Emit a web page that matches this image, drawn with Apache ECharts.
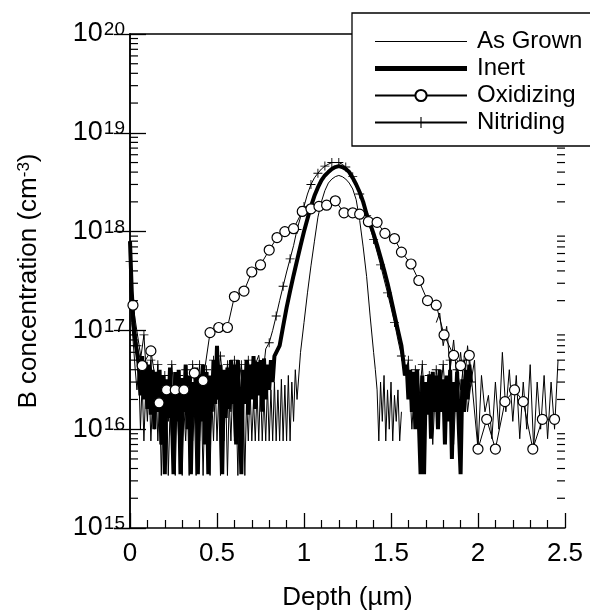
<!DOCTYPE html>
<html><head><meta charset="utf-8">
<script src="https://cdn.jsdelivr.net/npm/echarts@6.0.0/dist/echarts.min.js"></script>
<style>html,body{margin:0;padding:0;background:#fff}#c{width:590px;height:616px}</style>
</head><body><div id="c"></div>
<script>
// ---- data (depth in µm, concentration in cm^-3) ----
const inertDepth = [0,0.01,0.02,0.03,0.04,0.05,0.06,0.07,0.08,0.09,
0.1,0.11,0.12,0.13,0.14,0.15,0.16,0.17,0.18,0.19,
0.2,0.21,0.22,0.23,0.24,0.25,0.26,0.27,0.28,0.29,
0.3,0.31,0.32,0.33,0.34,0.35,0.36,0.37,0.38,0.39,
0.4,0.41,0.42,0.43,0.44,0.45,0.46,0.47,0.48,0.49,
0.5,0.51,0.52,0.53,0.54,0.55,0.56,0.57,0.58,0.59,
0.6,0.61,0.62,0.63,0.64,0.65,0.66,0.67,0.68,0.69,
0.7,0.71,0.72,0.73,0.74,0.75,0.76,0.77,0.78,0.79,
0.8,0.81,0.82,0.83,0.84,
0.86,0.88,0.9,0.92,0.94,0.96,0.98,1,1.02,1.04,
1.06,1.08,1.1,1.12,1.14,1.16,1.18,1.2,1.22,1.24,
1.26,1.28,1.3,1.32,1.34,1.36,1.38,1.4,1.42,1.44,
1.46,1.48,1.5,1.52,1.54,1.56,
1.57,1.58,1.59,1.6,1.61,1.62,1.63,1.64,1.65,1.66,
1.67,1.68,1.69,1.7,1.71,1.72,1.73,1.74,1.75,1.76,
1.77,1.78,1.79,1.8,1.81,1.82,1.83,1.84,1.85,1.86,
1.87,1.88,1.89,1.9,1.91,1.92,1.93,1.94,1.95,1.96];
const inert = [8e17,2.5e17,1.2e17,8e16,6e16,4.5e16,2.2e16,5.5e16,2e16,4.8e16,
1.6e16,4.5e16,1.4e16,4e16,1e16,3.8e16,1.5e16,4e16,7e15,3.5e16,
3.5e15,3.2e16,1.3e16,4.2e16,1.6e16,3.5e15,3.8e16,1.2e16,4e16,3.5e15,
3.3e16,1.5e16,4.5e16,1e16,3.5e16,3.5e15,3e16,1.4e16,4.2e16,3.5e15,
3.6e16,1.2e16,4.5e16,7e15,3.8e16,3.5e15,3.5e16,1.5e16,5e16,1.8e16,
7e16,2e16,4.5e16,3.5e15,4e16,1.3e16,4.2e16,1.6e16,5e16,1.8e16,
4.5e16,7e15,5e16,1.5e16,3.5e15,4e16,1.8e16,5e16,1.4e16,4.5e16,
2e16,5.5e16,1.6e16,4.8e16,2.2e16,5e16,1.5e16,5.2e16,2e16,4.5e16,
2.5e16,5e16,3e16,5.5e16,5.5e16,
7e16,1.1e17,1.7e17,2.5e17,3.6e17,5.1e17,7.2e17,1e18,1.35e18,1.8e18,
2.3e18,2.8e18,3.3e18,3.7e18,4e18,4.3e18,4.5e18,4.6e18,4.5e18,4.3e18,
4e18,3.5e18,3e18,2.5e18,2e18,1.5e18,1.2e18,9.5e17,7.3e17,5.5e17,
4.1e17,3e17,2.1e17,1.45e17,1e17,7e16,
5e16,3.5e16,4.5e16,2e16,4e16,1.5e16,3.8e16,1e16,4e16,1.2e16,
3.5e15,3.5e16,3.5e15,3e16,1.4e16,3.6e16,8e15,3.8e16,1.5e16,3.5e16,
1e16,4e16,1.5e16,3.2e16,7e15,3.5e16,1.2e16,4e16,5e15,3e16,
1.5e16,3.8e16,1e16,3.5e15,3.2e16,1.5e16,4e16,2e16,4.5e16,3e16];

const asGrownDepth = [0,0.01,0.02,0.03,0.04,0.05,0.06,0.07,0.08,0.09,
0.1,0.11,0.12,0.13,0.14,0.15,0.16,0.17,0.18,0.19,
0.2,0.21,0.22,0.23,0.24,0.25,0.26,0.27,0.28,0.29,
0.3,0.31,0.32,0.33,0.34,0.35,0.36,0.37,0.38,0.39,
0.4,0.41,0.42,0.43,0.44,0.45,0.46,0.47,0.48,0.49,
0.5,0.51,0.52,0.53,0.54,0.55,0.56,0.57,0.58,0.59,
0.6,0.61,0.62,0.63,0.64,0.65,0.66,0.67,0.68,0.69,
0.7,0.71,0.72,0.73,0.74,0.75,0.76,0.77,0.78,0.79,
0.8,0.81,0.82,0.83,0.84,0.85,0.86,0.87,0.88,0.89,
0.9,0.91,0.92,0.93,0.94,0.95,0.96,
0.98,1,1.02,1.04,1.06,1.08,1.1,1.12,1.14,1.16,
1.18,1.2,1.22,1.24,1.26,1.28,1.3,1.32,1.34,1.36,
1.38,1.4,
1.41,1.42,1.43,1.44,1.45,1.46,1.47,1.48,1.49,1.5,
1.51,1.52,1.53,1.54,1.55,1.56];
const asGrown = [3e17,1.2e17,7e16,4e16,2.5e16,4e16,1e16,3e16,7.6e15,2.5e16,
1.2e16,3e16,7.6e15,2e16,1e16,2.8e16,7.6e15,2e16,3.4e15,1.8e16,
7.6e15,2.5e16,3.4e15,1.5e16,7.6e15,2.2e16,3.4e15,1.8e16,7.6e15,2.5e16,
3.4e15,1.6e16,7.6e15,2e16,3.4e15,2.2e16,7.6e15,1.5e16,3.4e15,2.5e16,
7.6e15,2e16,3.4e15,1.8e16,7.6e15,2.4e16,3.4e15,2e16,7.6e15,2.8e16,
7.6e15,2.2e16,3.4e15,1.8e16,7.6e15,2.5e16,3.4e15,2e16,7.6e15,2.6e16,
7.6e15,1.8e16,3.4e15,2.2e16,7.6e15,2.5e16,3.4e15,2e16,7.6e15,2.8e16,
7.6e15,2e16,7.6e15,2.5e16,7.6e15,3e16,7.6e15,2.2e16,7.6e15,2.8e16,
7.6e15,2.5e16,7.6e15,3e16,7.6e15,2.5e16,7.6e15,3.2e16,7.6e15,2.8e16,
7.6e15,3.5e16,7.6e15,3e16,1.2e16,4e16,2e16,
6e16,1.2e17,2.4e17,4.5e17,8e17,1.4e18,2e18,2.6e18,3.1e18,3.4e18,
3.6e18,3.7e18,3.6e18,3.4e18,3.1e18,2.7e18,2.1e18,1.3e18,7e17,3.5e17,
1.4e17,6e16,
4e16,2.5e16,7.6e15,3e16,1.2e16,3.5e16,7.6e15,2.5e16,1e16,3e16,
7.6e15,2.2e16,1.2e16,2.5e16,7.6e15,1.5e16];

const nitridingDepth = [0,0.02,0.04,0.06,0.08,0.1,0.12,0.14,0.16,0.18,
0.2,0.22,0.24,0.26,0.28,0.3,0.32,0.34,0.36,0.38,
0.4,0.42,0.44,0.46,0.48,0.5,0.52,0.54,0.56,0.58,
0.6,0.62,0.64,0.66,0.68,0.7,0.72,0.74,0.76,0.78,
0.8,0.82,0.84,0.86,0.88,0.9,0.92,0.94,0.96,0.98,
1,1.02,1.04,1.06,1.08,1.1,1.12,1.14,1.16,1.18,
1.2,1.22,1.24,1.26,1.28,1.3,1.32,1.34,1.36,1.38,
1.4,1.42,1.44,1.46,1.48,1.5,1.52,1.54,1.56,1.58,
1.6,1.62,1.64,1.66,1.68,1.7,1.72,1.74,1.76,1.78,
1.8,1.82,1.84,1.86,1.88,1.9,1.92,1.94,1.96];
const nitriding = [5e17,1.5e17,7e16,5e16,9e16,2.5e16,5e16,1.5e16,4.5e16,7e15,
3.5e16,1.2e16,4.5e16,1.8e16,3.5e16,7e15,4e16,1.5e16,4.5e16,2e16,
4.5e16,1.5e16,4e16,7e15,5e16,2e16,5.5e16,2.5e16,4.5e16,1.5e16,
5e16,2.5e16,4.5e16,1.8e16,5e16,2.5e16,4.5e16,5.6e16,3e16,6.5e16,
7.5e16,1e17,1.4e17,2e17,2.8e17,3.9e17,5.3e17,7.2e17,1.05e18,1.4e18,
1.8e18,2.4e18,3e18,3.5e18,3.9e18,4.3e18,4.6e18,4.8e18,5e18,5e18,
5e18,4.8e18,4.5e18,4.1e18,3.6e18,3e18,2.4e18,1.9e18,1.45e18,1.1e18,
8.3e17,6.2e17,4.6e17,3.3e17,2.4e17,1.7e17,1.2e17,8e16,5.5e16,3.5e16,
5e16,1e16,4e16,2e16,4.5e16,1.2e16,3.5e16,7e15,4e16,2e16,
4.5e16,1.5e16,5e16,7e15,4e16,2.5e16,5e16,1.5e16,3e16];

// Oxidizing: measured points shown with open circles
const oxDepth = [0.017,0.07,0.12,0.167,0.21,0.26,0.31,0.37,0.42,0.46,
0.51,0.56,0.6,0.655,0.7,0.75,0.8,0.845,0.89,0.94,
0.99,1.04,1.086,1.13,1.18,1.23,1.28,1.32,1.37,1.42,
1.465,1.52,1.56,1.615,1.66,1.71,1.76,1.805,1.86,1.9,
1.95,2,2.05,2.1,2.155,2.21,2.26,2.315,2.37,2.44];
const oxConc = [1.8e17,4.4e16,6.2e16,1.85e16,2.5e16,2.5e16,2.5e16,3.7e16,3.1e16,9.5e16,
1.07e17,1.07e17,2.2e17,2.5e17,3.9e17,4.6e17,6.5e17,8.7e17,1e18,1.07e18,
1.6e18,1.7e18,1.8e18,1.85e18,2.05e18,1.55e18,1.55e18,1.5e18,1.26e18,1.24e18,
9.6e17,8.5e17,6.2e17,4.7e17,3.2e17,2e17,1.8e17,9e16,5.6e16,4.4e16,
5.6e16,6.3e15,1.26e16,6.3e15,1.9e16,2.5e16,1.9e16,6.3e15,1.26e16,1.26e16];
// Oxidizing: raw profile in the deep tail
const oxTailDepth = [1.76,1.78,1.8,1.82,1.84,1.86,1.88,1.9,1.92,1.94,
1.96,1.98,2,2.02,2.04,2.06,2.08,2.1,2.12,2.14,
2.16,2.18,2.2,2.22,2.24,2.26,2.28,2.3,2.32,2.34,
2.36,2.38,2.4,2.42,2.44,2.46];
const oxTailConc = [1.2e17,1.5e17,7e16,1.1e17,4e16,8e16,3e16,6e16,2.5e16,7e16,
3e16,5e16,6.3e15,3.5e16,1.5e16,2.2e16,8e15,3e16,1e16,6e16,
1.5e16,4e16,1.2e16,3.5e16,8e15,3e16,1e16,4.5e16,6.3e15,3e16,
1e16,3.5e16,8e15,3e16,1e16,5e16];

const xTickValues = [0,0.5,1,1.5,2,2.5];
const xTickLabels = ['0','0.5','1','1.5','2','2.5'];
const yTickExps = [15,16,17,18,19,20];
const minorMantissas = [2,3,4,5,6,7,8,9];

// ---- build ----
const pairs = (xs, ys) => ys.map((v, i) => [xs[i], v]);
const minorY = [];
yTickExps.slice(0, -1).forEach(e => minorMantissas.forEach(m => minorY.push([0, m * Math.pow(10, e)])));

const FONT = 'Liberation Sans, Arial, Helvetica, sans-serif';
const BLACK = '#000';
const plusPath = 'path://M9,0L11,0L11,9L20,9L20,11L11,11L11,20L9,20L9,11L0,11L0,9L9,9Z';

const chart = echarts.init(document.getElementById('c'), null, {renderer: 'canvas'});
chart.setOption({
  animation: false,
  backgroundColor: '#fff',
  grid: {left: 130, right: 25, top: 34, bottom: 86},
  legend: {
    data: [
      {name: 'As Grown', icon: 'path://M0,0L92,0L92,1.2L0,1.2Z'},
      {name: 'Inert', icon: 'path://M0,0L92,0L92,5L0,5Z'},
      {name: 'Oxidizing'},
      {name: 'Nitriding'}
    ],
    orient: 'vertical', left: 352, top: 13,
    padding: [15, 40, 10, 22],
    itemWidth: 92, itemHeight: 14, itemGap: 0, symbolKeepAspect: true,
    backgroundColor: '#fff', borderColor: BLACK, borderWidth: 1.3,
    textStyle: {fontFamily: FONT, fontSize: 24, color: BLACK, lineHeight: 27, padding: [0, 0, 0, 5]},
    selectedMode: false, z: 20
  },
  xAxis: [{
    type: 'value', min: 0, max: 2.5, interval: 0.5,
    name: 'Depth (µm)', nameLocation: 'middle', nameGap: 57,
    nameTextStyle: {fontFamily: FONT, fontSize: 26, color: BLACK},
    axisLine: {show: true, lineStyle: {color: BLACK, width: 1.5}},
    axisTick: {show: true, inside: true, length: 15, lineStyle: {color: BLACK, width: 1.3}},
    minorTick: {show: true, splitNumber: 5, length: 8, lineStyle: {color: BLACK, width: 1.2}},
    splitLine: {show: false},
    axisLabel: {
      fontFamily: FONT, fontSize: 26, color: BLACK, margin: 13,
      formatter: v => { const i = xTickValues.findIndex(t => Math.abs(t - v) < 1e-9); return i >= 0 ? xTickLabels[i] : ''; }
    }
  }, {
    type: 'value', min: 0, max: 2.5, position: 'top',
    axisLine: {show: true, lineStyle: {color: BLACK, width: 1.5}},
    axisTick: {show: false}, axisLabel: {show: false}, splitLine: {show: false}
  }],
  yAxis: [{
    type: 'log', logBase: 10, min: 1e15, max: 1e20,
    name: '{n|B concentration (cm}{s|-3}{n|)}', nameLocation: 'middle', nameGap: 88,
    nameTextStyle: {
      rich: {
        n: {fontFamily: FONT, fontSize: 26, color: BLACK, verticalAlign: 'bottom'},
        s: {fontFamily: FONT, fontSize: 17, color: BLACK, verticalAlign: 'top'}
      }
    },
    axisLine: {show: true, lineStyle: {color: BLACK, width: 1.5}},
    axisTick: {show: true, inside: true, length: 16, lineStyle: {color: BLACK, width: 1.3}},
    splitLine: {show: false},
    axisLabel: {
      margin: 5,
      formatter: v => { const e = Math.round(Math.log10(v)); return yTickExps.indexOf(e) >= 0 ? '{b|10}{s|' + e + '}' : ''; },
      rich: {
        b: {fontFamily: FONT, fontSize: 27, color: BLACK, verticalAlign: 'bottom'},
        s: {fontFamily: FONT, fontSize: 19, color: BLACK, verticalAlign: 'top', padding: [0, 0, 0, 1]}
      }
    }
  }, {
    type: 'log', logBase: 10, min: 1e15, max: 1e20, position: 'right',
    axisLine: {show: true, lineStyle: {color: BLACK, width: 1.5}},
    axisTick: {show: true, inside: true, length: 16, lineStyle: {color: BLACK, width: 1.3}},
    axisLabel: {show: false}, splitLine: {show: false}
  }],
  series: [
    {
      name: 'As Grown', type: 'line', data: pairs(asGrownDepth, asGrown),
      symbol: 'none', lineStyle: {color: BLACK, width: 1}, itemStyle: {color: BLACK}, z: 3
    },
    {
      name: 'Inert', type: 'line', data: pairs(inertDepth, inert),
      symbol: 'none', lineStyle: {color: BLACK, width: 4}, itemStyle: {color: BLACK}, z: 4
    },
    {
      name: 'Nitriding', type: 'line', data: pairs(nitridingDepth, nitriding),
      symbol: plusPath, showAllSymbol: true,
      symbolSize: (v, p) => (p && p.dataIndex % 2 === 0) ? 9 : (p ? 0 : 9),
      lineStyle: {color: BLACK, width: 1}, itemStyle: {color: BLACK, borderWidth: 0}, z: 5
    },
    {
      name: 'oxTail', type: 'line', data: pairs(oxTailDepth, oxTailConc),
      symbol: 'none', lineStyle: {color: BLACK, width: 1}, z: 5
    },
    {
      name: 'Oxidizing', type: 'line', data: pairs(oxDepth, oxConc),
      symbol: 'circle', symbolSize: 10, showAllSymbol: true,
      lineStyle: {color: BLACK, width: 1},
      itemStyle: {color: '#fff', borderColor: BLACK, borderWidth: 1.2}, z: 6
    },
    {
      name: 'minorTicks', type: 'custom', coordinateSystem: 'cartesian2d', silent: true, z: 7,
      data: minorY,
      renderItem: (params, api) => {
        const y = api.coord([0, api.value(1)])[1];
        const xl = params.coordSys.x, xr = params.coordSys.x + params.coordSys.width;
        const st = {stroke: BLACK, lineWidth: 1.2};
        return {type: 'group', children: [
          {type: 'line', shape: {x1: xl, y1: y, x2: xl + 8, y2: y}, style: st},
          {type: 'line', shape: {x1: xr - 8, y1: y, x2: xr, y2: y}, style: st}
        ]};
      }
    }
  ]
});
</script></body></html>
